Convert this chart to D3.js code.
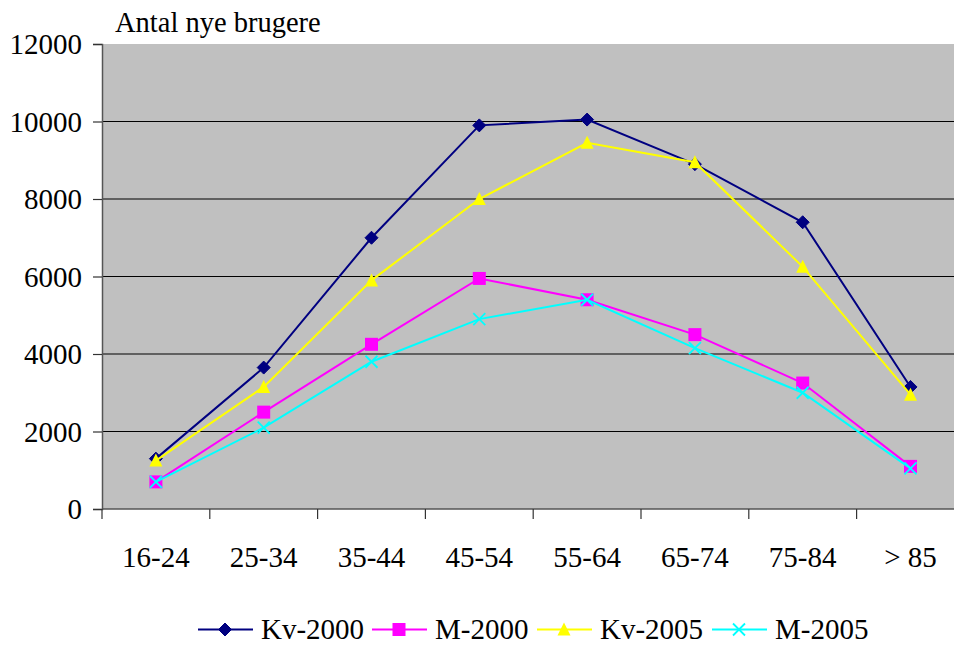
<!DOCTYPE html>
<html>
<head>
<meta charset="utf-8">
<script src="https://cdn.jsdelivr.net/npm/d3@7/dist/d3.min.js"></script>
<style>
  html, body { margin: 0; padding: 0; background: #fff; }
  svg { display: block; }
</style>
</head>
<body>
<svg id="chart" width="954" height="645"></svg>
<script>
// Age groups along the x axis
const categories = ["16-24", "25-34", "35-44", "45-54", "55-64", "65-74", "75-84", "> 85"];

// New users per age group
const kv2000 = [1300, 3650, 7000, 9900, 10050, 8900, 7400, 3150];
const m2000  = [700, 2500, 4250, 5950, 5400, 4500, 3250, 1100];
const kv2005 = [1250, 3150, 5900, 8000, 9450, 8950, 6250, 2950];
const m2005  = [700, 2100, 3800, 4900, 5400, 4150, 3000, 1050];

const seriesNames = ["Kv-2000", "M-2000", "Kv-2005", "M-2005"];
const yTicks = [0, 2000, 4000, 6000, 8000, 10000, 12000];

const series = [
  { name: seriesNames[0], values: kv2000, color: "#000080", marker: "diamond" },
  { name: seriesNames[1], values: m2000,  color: "#FF00FF", marker: "square" },
  { name: seriesNames[2], values: kv2005, color: "#FFFF00", marker: "triangle" },
  { name: seriesNames[3], values: m2005,  color: "#00FFFF", marker: "x" }
];

const FONT = "'Liberation Serif', 'Times New Roman', serif";
const svg = d3.select("#chart");
const plotLeft = 102, plotTop = 44, plotBottom = 509, bandW = 107.8;
const plotRight = plotLeft + bandW * categories.length;

const x = d3.scaleBand().domain(categories).range([plotLeft, plotRight]).padding(0);
const y = d3.scaleLinear().domain([0, 12000]).range([plotBottom, plotTop]);
const cx = c => x(c) + x.bandwidth() / 2;

// Plot background
svg.append("rect")
  .attr("x", plotLeft).attr("y", plotTop)
  .attr("width", plotRight - plotLeft).attr("height", plotBottom - plotTop)
  .attr("fill", "#C0C0C0");

// Horizontal gridlines
svg.append("g")
  .selectAll("line")
  .data(yTicks.filter(t => t > 0 && t < 12000))
  .join("line")
  .attr("x1", plotLeft).attr("x2", plotRight)
  .attr("y1", d => y(d)).attr("y2", d => y(d))
  .attr("stroke", "#000").attr("stroke-width", 1.2);

// Y axis
const yAxis = svg.append("g")
  .attr("transform", `translate(${plotLeft},0)`)
  .call(d3.axisLeft(y).tickValues(yTicks).tickSize(9).tickPadding(11).tickFormat(d3.format("d")));
yAxis.select(".domain").attr("stroke", "#555").attr("stroke-width", 1.5);
yAxis.selectAll(".tick line").attr("stroke", "#333").attr("stroke-width", 1.2);
yAxis.selectAll("text")
  .style("font-family", FONT)
  .style("font-size", "29px")
  .attr("fill", "#000").attr("dy", "0.34em");

// X axis line and tick marks at band edges
svg.append("line")
  .attr("x1", plotLeft).attr("x2", plotRight)
  .attr("y1", plotBottom).attr("y2", plotBottom)
  .attr("stroke", "#555").attr("stroke-width", 1.5);
svg.append("g")
  .selectAll("line")
  .data(categories)
  .join("line")
  .attr("x1", d => x(d)).attr("x2", d => x(d))
  .attr("y1", plotBottom).attr("y2", plotBottom + 10)
  .attr("stroke", "#333").attr("stroke-width", 1.2);

// X labels
svg.append("g")
  .selectAll("text")
  .data(categories)
  .join("text")
  .attr("x", d => cx(d)).attr("y", 567)
  .attr("text-anchor", "middle")
  .style("font-family", FONT)
  .style("font-size", "29px")
  .text(d => d);

// Axis title
svg.append("text")
  .attr("x", 115).attr("y", 32)
  .style("font-family", FONT)
  .style("font-size", "28.5px")
  .text("Antal nye brugere");

// Marker drawing
function drawMarker(g, type, color) {
  if (type === "diamond") {
    g.append("path").attr("d", "M0,-6.5L6.5,0L0,6.5L-6.5,0Z").attr("fill", color).attr("stroke", color);
  } else if (type === "square") {
    g.append("rect").attr("x", -6.5).attr("y", -6.5).attr("width", 13).attr("height", 13).attr("fill", color);
  } else if (type === "triangle") {
    g.append("path").attr("d", "M0,-7L6.5,6L-6.5,6Z").attr("fill", color);
  } else if (type === "x") {
    g.append("path").attr("d", "M-6,-6L6,6M6,-6L-6,6").attr("stroke", color).attr("stroke-width", 1.8).attr("fill", "none");
  }
}

const line = d3.line().x((d, i) => cx(categories[i])).y(d => y(d));

series.forEach(s => {
  svg.append("path")
    .datum(s.values)
    .attr("d", line)
    .attr("fill", "none")
    .attr("stroke", s.color)
    .attr("stroke-width", 2);
  s.values.forEach((v, i) => {
    const g = svg.append("g").attr("transform", `translate(${cx(categories[i])},${y(v)})`);
    drawMarker(g, s.marker, s.color);
  });
});

// Legend
const legendX = [198, 372, 537, 712];
const legendY = 629.5;
series.forEach((s, i) => {
  const g = svg.append("g").attr("transform", `translate(${legendX[i]},${legendY})`);
  g.append("line").attr("x1", 0).attr("x2", 55).attr("y1", 0).attr("y2", 0)
    .attr("stroke", s.color).attr("stroke-width", 2);
  const m = g.append("g").attr("transform", "translate(27,0)");
  drawMarker(m, s.marker, s.color);
  g.append("text").attr("x", 63).attr("y", 9)
    .style("font-family", FONT)
    .style("font-size", "29px")
    .text(s.name);
});
</script>
</body>
</html>
